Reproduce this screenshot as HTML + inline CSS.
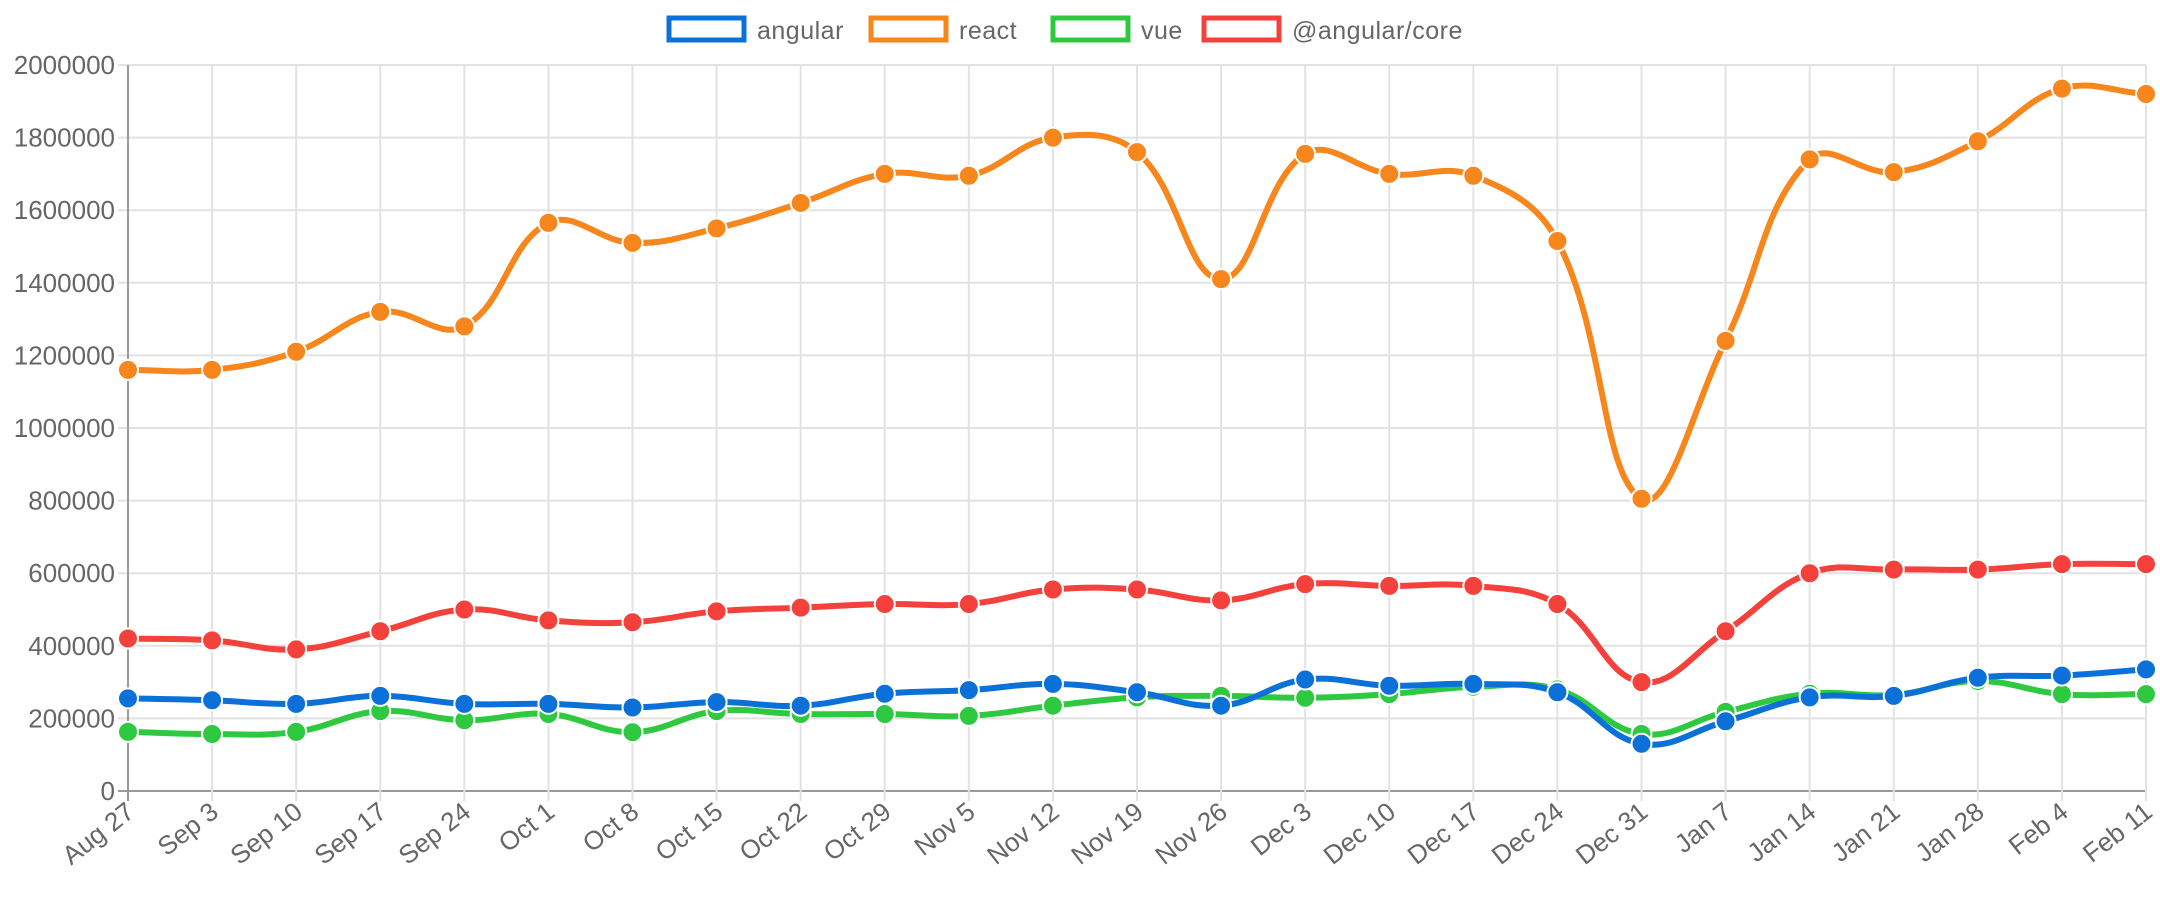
<!DOCTYPE html>
<html><head><meta charset="utf-8"><style>
html,body{margin:0;padding:0;background:#fff;}
svg{display:block;font-family:"Liberation Sans",sans-serif;}
</style></head><body>
<svg id="chart" width="2160" height="900" viewBox="0 0 2160 900"></svg>
<script>
const categories=["Aug 27","Sep 3","Sep 10","Sep 17","Sep 24","Oct 1","Oct 8","Oct 15","Oct 22","Oct 29","Nov 5","Nov 12","Nov 19","Nov 26","Dec 3","Dec 10","Dec 17","Dec 24","Dec 31","Jan 7","Jan 14","Jan 21","Jan 28","Feb 4","Feb 11"];
const angularValues=[255000,250000,240000,262000,240000,240000,230000,245000,235000,268000,278000,295000,272000,235000,307000,290000,295000,272000,130000,192000,258000,262000,312000,318000,335000];
const reactValues=[1160000,1160000,1210000,1320000,1280000,1565000,1510000,1550000,1620000,1700000,1695000,1800000,1760000,1410000,1755000,1700000,1695000,1515000,805000,1240000,1740000,1705000,1790000,1935000,1920000];
const vueValues=[163000,157000,163000,220000,195000,212000,162000,220000,212000,212000,207000,235000,258000,262000,257000,267000,287000,280000,157000,218000,268000,265000,303000,267000,267000];
const coreValues=[420000,415000,390000,440000,500000,470000,465000,495000,505000,515000,515000,555000,555000,525000,570000,565000,565000,515000,300000,440000,600000,610000,610000,625000,625000];
const yTicks=[0,200000,400000,600000,800000,1000000,1200000,1400000,1600000,1800000,2000000];
const seriesNames=["angular","react","vue","@angular/core"];

const NS="http://www.w3.org/2000/svg";
const svg=document.getElementById("chart");
const L=128,R=2146,T=65,B=791,YMAX=2000000;
function xPos(i){return L+(R-L)*i/(categories.length-1);}
function yPos(v){return B-(B-T)*v/YMAX;}
function mk(tag,attrs,parent){const e=document.createElementNS(NS,tag);for(const k in attrs)e.setAttribute(k,attrs[k]);(parent||svg).appendChild(e);return e;}

const grid=mk("g",{});


yTicks.forEach(v=>{
  const y=yPos(v);
  mk("line",{x1:L-10,x2:R,y1:y,y2:y,stroke:v===0?"#9a9a9a":"#e2e2e2","stroke-width":2},grid);
  const t=mk("text",{x:L-13,y:y+9,"text-anchor":"end","font-size":26,fill:"#666"});
  t.textContent=v;
  
  
});
categories.forEach((c,i)=>{
  const x=xPos(i);
  mk("line",{x1:x,x2:x,y1:T,y2:B+10,stroke:i===0?"#9a9a9a":"#e2e2e2","stroke-width":2},grid);
  const t=mk("text",{x:0,y:0,"text-anchor":"end","font-size":26,fill:"#666",transform:`translate(${x+8},${B+24}) rotate(-38)`});
  t.textContent=c;
  
  
});

function path(vals){
  const pts=vals.map((v,i)=>[xPos(i),yPos(v)]);
  const t=0.4;let d=`M${pts[0][0]},${pts[0][1]}`;
  const cps=pts.map((p,i)=>{
    const prev=pts[Math.max(i-1,0)],next=pts[Math.min(i+1,pts.length-1)];
    const d01=Math.hypot(p[0]-prev[0],p[1]-prev[1]),d12=Math.hypot(next[0]-p[0],next[1]-p[1]);
    let fa=d01/(d01+d12)||0,fb=d12/(d01+d12)||0;fa*=t;fb*=t;
    return {prev:[p[0]-fa*(next[0]-prev[0]),p[1]-fa*(next[1]-prev[1])],next:[p[0]+fb*(next[0]-prev[0]),p[1]+fb*(next[1]-prev[1])]};
  });
  for(let i=1;i<pts.length;i++){
    d+=` C${cps[i-1].next[0]},${cps[i-1].next[1]} ${cps[i].prev[0]},${cps[i].prev[1]} ${pts[i][0]},${pts[i][1]}`;
  }
  return d;
}
const series=[
  {name:"@angular/core",vals:coreValues,color:"#f5413b",key:"angular-core"},
  {name:"vue",vals:vueValues,color:"#2ec940",key:"vue"},
  {name:"react",vals:reactValues,color:"#f7861c",key:"react"},
  {name:"angular",vals:angularValues,color:"#0b71d9",key:"angular"}
];
series.forEach(s=>{
  const g=mk("g",{});
  
  
  const p=mk("path",{d:path(s.vals),fill:"none",stroke:s.color,"stroke-width":6},g);
  
  
  s.vals.forEach((v,i)=>{
    const c=mk("circle",{cx:xPos(i),cy:yPos(v),r:10,fill:s.color,stroke:"#fff","stroke-width":2},g);
    
    
  });
});

const legendColors=["#0b71d9","#f7861c","#2ec940","#f5413b"];
const legendX=[666,868,1050,1201];
const lg=mk("g",{});


seriesNames.forEach((n,i)=>{
  const g=mk("g",{},lg);
  
  
  mk("rect",{x:legendX[i]+3,y:18,width:75,height:22,fill:"#fff",stroke:legendColors[i],"stroke-width":5},g);
  const t=mk("text",{x:legendX[i]+91,y:39,"font-size":25,fill:"#666","letter-spacing":"0.5"},g);
  t.textContent=n;
});
</script>
</body></html>
